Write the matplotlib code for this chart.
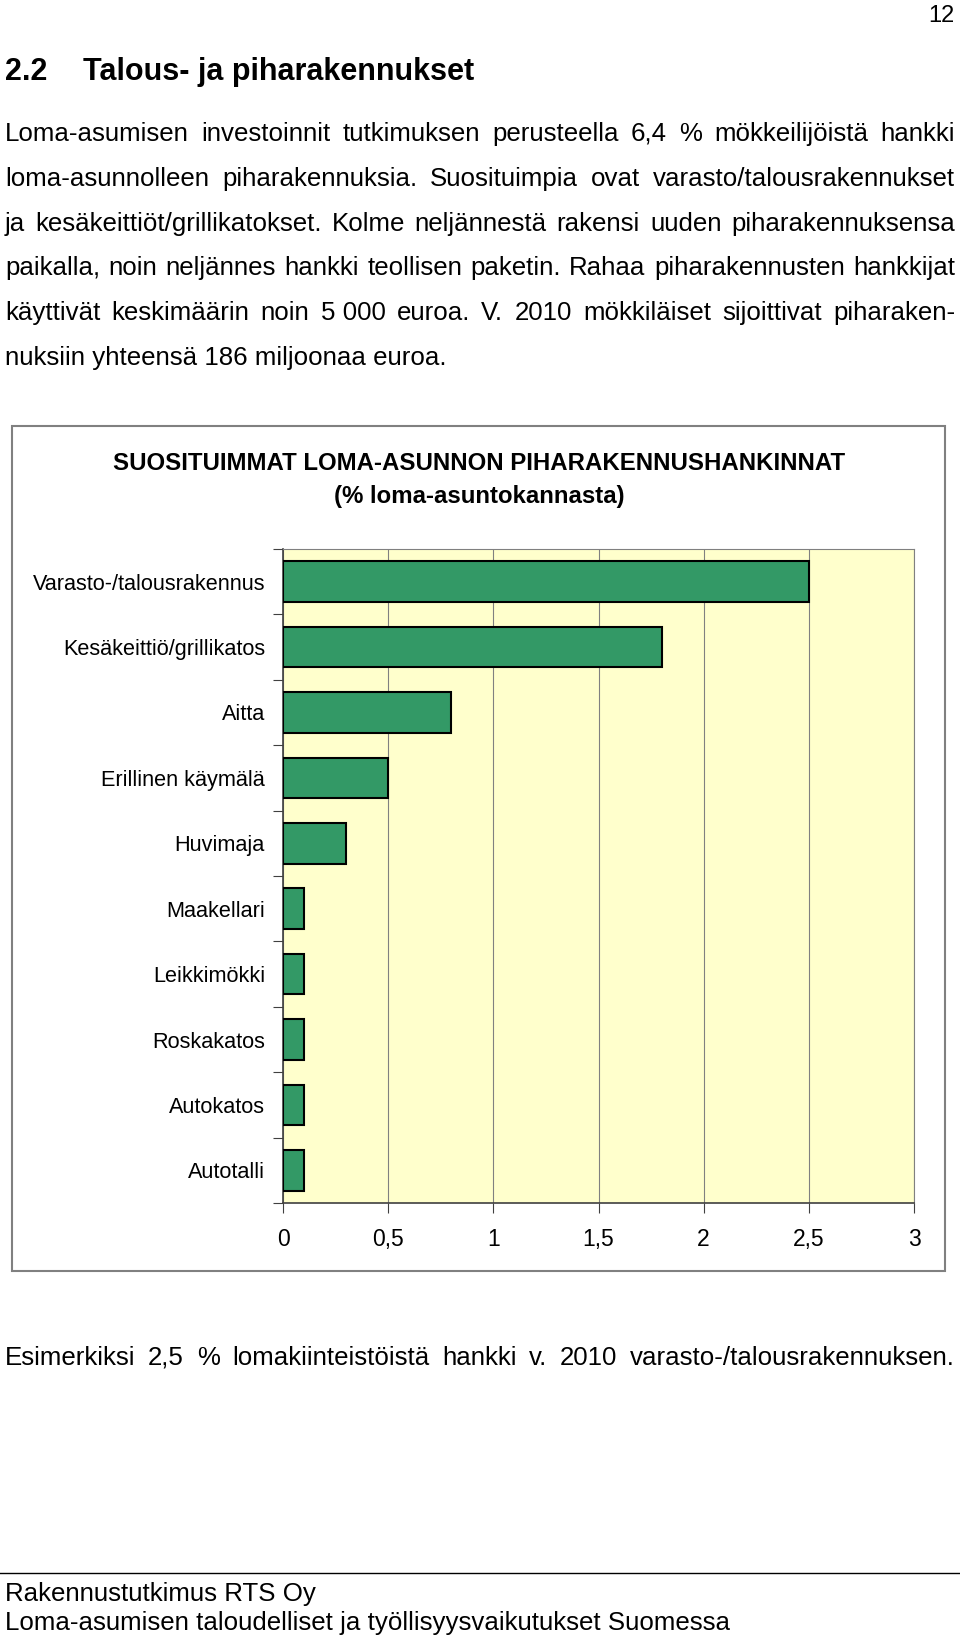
import numpy as np
import matplotlib
matplotlib.use('Agg')
import matplotlib.pyplot as plt
import matplotlib.transforms as mtransforms
from matplotlib.patches import Rectangle
from matplotlib.lines import Line2D

categories = ['Varasto-/talousrakennus', 'Kesäkeittiö/grillikatos', 'Aitta',
              'Erillinen käymälä', 'Huvimaja', 'Maakellari', 'Leikkimökki',
              'Roskakatos', 'Autokatos', 'Autotalli']
values = [2.5, 1.8, 0.8, 0.5, 0.3, 0.1, 0.1, 0.1, 0.1, 0.1]
xticks = [0, 0.5, 1, 1.5, 2, 2.5, 3]
xticklabels = ['0', '0,5', '1', '1,5', '2', '2,5', '3']

body_lines = [
    'Loma-asumisen investoinnit tutkimuksen perusteella 6,4 % mökkeilijöistä hankki',
    'loma-asunnolleen piharakennuksia. Suosituimpia ovat varasto/talousrakennukset',
    'ja kesäkeittiöt/grillikatokset. Kolme neljännestä rakensi uuden piharakennuksensa',
    'paikalla, noin neljännes hankki teollisen paketin. Rahaa piharakennusten hankkijat',
    'käyttivät keskimäärin noin 5\u00a0000 euroa. V. 2010 mökkiläiset sijoittivat piharaken-',
    'nuksiin yhteensä 186 miljoonaa euroa.',
]
note = 'Esimerkiksi 2,5 % lomakiinteistöistä hankki v. 2010 varasto-/talousrakennuksen.'

plt.rcParams['font.family'] = 'Liberation Sans'

W, H = 960, 1637
fig = plt.figure(figsize=(W / 100, H / 100), dpi=100)
px = mtransforms.IdentityTransform()
TXT = 18.6


def put(x, y, s, **kw):
    # pixel coords, y measured from the top
    return fig.text(x, H - y, s, transform=px, **kw)


def justify(line, y, size, x0=5, x1=955):
    words = line.split(' ')
    texts = [put(0, y, w, fontsize=size, va='baseline') for w in words]
    r = fig.canvas.get_renderer()
    widths = [t.get_window_extent(r).width for t in texts]
    gap = (x1 - x0 - sum(widths)) / (len(words) - 1)
    x = x0
    for t, w in zip(texts, widths):
        t.set_x(x)
        x += w + gap


# page header
put(955, 22, '12', fontsize=17, ha='right', va='baseline')
put(5, 80, '2.2', fontsize=22, fontweight='bold', va='baseline')
put(83, 80, 'Talous- ja piharakennukset', fontsize=22, fontweight='bold', va='baseline')

for i, line in enumerate(body_lines):
    y = 141 + 44.8 * i
    if i < len(body_lines) - 1:
        justify(line, y, TXT)
    else:
        put(5, y, line, fontsize=TXT, va='baseline')

# chart frame
fig.patches.append(Rectangle((12, H - 1271), 933, 845, transform=px, fill=False,
                             edgecolor='#808080', linewidth=1.5))
put(479, 463, 'SUOSITUIMMAT LOMA-ASUNNON PIHARAKENNUSHANKINNAT', fontsize=17.3,
    fontweight='bold', ha='center', va='center')
put(479, 497, '(% loma-asuntokannasta)', fontsize=17.3, fontweight='bold',
    ha='center', va='center')

ax = fig.add_axes([283 / W, (H - 1203) / H, 631 / W, 654 / H])
ax.set_facecolor('#FFFFCC')
y = np.arange(len(categories))
ax.barh(y, values, height=0.62, color='#339966', edgecolor='black', linewidth=1.5,
        zorder=3)
ax.set_xlim(0, 3)
ax.set_ylim(len(categories) - 0.5, -0.5)
ax.set_xticks(xticks)
ax.set_xticklabels(xticklabels, fontsize=16.5)
ax.xaxis.grid(True, color='#808080', linewidth=0.8, zorder=0)
ax.set_yticks(np.arange(-0.5, len(categories), 1))
ax.set_yticklabels([])
ax.set_yticks(y, minor=True)
ax.set_yticklabels(categories, minor=True, fontsize=15.6)
ax.tick_params(axis='y', which='major', length=7, color='#404040')
ax.tick_params(axis='y', which='minor', length=0, pad=13)
ax.tick_params(axis='x', length=7, color='#404040', pad=11)
for s in ['top', 'right']:
    ax.spines[s].set_color('#808080')
for s in ['left', 'bottom']:
    ax.spines[s].set_color('#404040')
    ax.spines[s].set_linewidth(1.2)

justify(note, 1365, TXT)

# footer
fig.add_artist(Line2D([0, W], [H - 1573, H - 1573], transform=px, color='black',
                      linewidth=1))
put(5, 1601, 'Rakennustutkimus RTS Oy', fontsize=TXT, va='baseline')
put(5, 1630, 'Loma-asumisen taloudelliset ja työllisyysvaikutukset Suomessa',
    fontsize=TXT, va='baseline')

fig.savefig('out.png', dpi=100)
